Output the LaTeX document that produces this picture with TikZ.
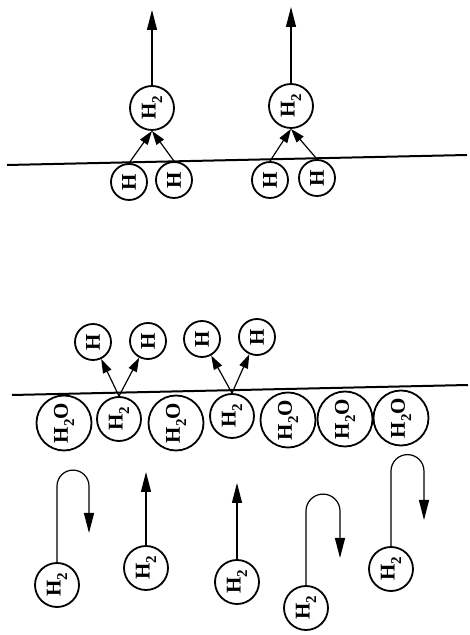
\documentclass[tikz,border=0pt]{standalone}
\usepackage{fontspec}
\setmainfont{Liberation Serif}
\usetikzlibrary{arrows.meta}
\newcommand\upright[1]{\rotatebox{90}{#1}}
\newcommand\low[1]{\raisebox{-0.3em}{\fontsize{15}{15}\selectfont#1}}

\tikzset{
    atom/.style={circle, draw, line width=1.8pt, minimum size=36pt, inner sep=0pt,
        font=\bfseries\fontsize{21}{21}\selectfont},
    hydrogen/.style={atom, minimum size=44pt},
    water/.style={atom, minimum size=55pt},
    surface/.style={line width=2pt},
    flow/.style={line width=1.2pt, -{Triangle[length=20pt, width=10pt]}},
    hop/.style={line width=1.2pt, -{Triangle[length=14pt, width=9pt]}},
}

\begin{document}
\begin{tikzpicture}[x=1pt, y=1pt]
    \useasboundingbox (0,0) rectangle (470,635);

    % recombination and desorption
    \draw[surface] (7,470) -- (467,480);
    \node[atom] (hA) at (129,453) {\upright{H}};
    \node[atom] (hB) at (174,455) {\upright{H}};
    \node[atom] (hC) at (270,455) {\upright{H}};
    \node[atom] (hD) at (317,457) {\upright{H}};
    \node[hydrogen] (t1) at (152,527) {\upright{H\low{2}}};
    \node[hydrogen] (t2) at (291,529) {\upright{H\low{2}}};
    \coordinate (t1up) at (152,625);
    \coordinate (t2up) at (291,628);
    \draw[flow] (t1) -- (t1up);
    \draw[flow] (t2) -- (t2up);
    \draw[hop] (hA.north) -- (t1.south);
    \draw[hop] (hB.north) -- (t1.south);
    \draw[hop] (hC.north) -- (t2.south);
    \draw[hop] (hD.north) -- (t2.south);

    % dissociation on the covered surface
    \draw[surface] (12,240) -- (468,250);
    \node[water] (w1) at (64,212) {\upright{H\low{2}O}};
    \node[hydrogen] (m1) at (119,216) {\upright{H\low{2}}};
    \node[water] (w2) at (176,212) {\upright{H\low{2}O}};
    \node[hydrogen] (m2) at (232,219) {\upright{H\low{2}}};
    \node[water] (w3) at (288,215) {\upright{H\low{2}O}};
    \node[water] (w4) at (345,216) {\upright{H\low{2}O}};
    \node[water] (w5) at (401,217) {\upright{H\low{2}O}};
    \node[atom] (d1) at (93,293) {\upright{H}};
    \node[atom] (d2) at (148,294) {\upright{H}};
    \node[atom] (d3) at (202,296) {\upright{H}};
    \node[atom] (d4) at (257,298) {\upright{H}};
    \draw[hop] (m1.north) -- (d1);
    \draw[hop] (m1.north) -- (d2);
    \draw[hop] (m2.north) -- (d3);
    \draw[hop] (m2.north) -- (d4);

    % gas phase
    \node[hydrogen] (g1) at (57,50) {\upright{H\low{2}}};
    \node[hydrogen] (g2) at (146,67) {\upright{H\low{2}}};
    \node[hydrogen] (g3) at (237,53) {\upright{H\low{2}}};
    \node[hydrogen] (g4) at (306,27) {\upright{H\low{2}}};
    \node[hydrogen] (g5) at (391,66) {\upright{H\low{2}}};
    \coordinate (g1end) at (89,102);
    \coordinate (g2up) at (146,163);
    \coordinate (g3up) at (237,152);
    \coordinate (g4end) at (340,77);
    \coordinate (g5end) at (424,115);
    \draw[flow] (g1.north) -- ++(0,76) arc[start angle=180, end angle=0, radius=16] -- (g1end);
    \draw[flow] (g2) -- (g2up);
    \draw[flow] (g3) -- (g3up);
    \draw[flow] (g4.north) -- ++(0,74) arc[start angle=180, end angle=0, radius=17] -- (g4end);
    \draw[flow] (g5.north) -- ++(0,75) arc[start angle=180, end angle=0, radius=16.5] -- (g5end);
\end{tikzpicture}
\end{document}
